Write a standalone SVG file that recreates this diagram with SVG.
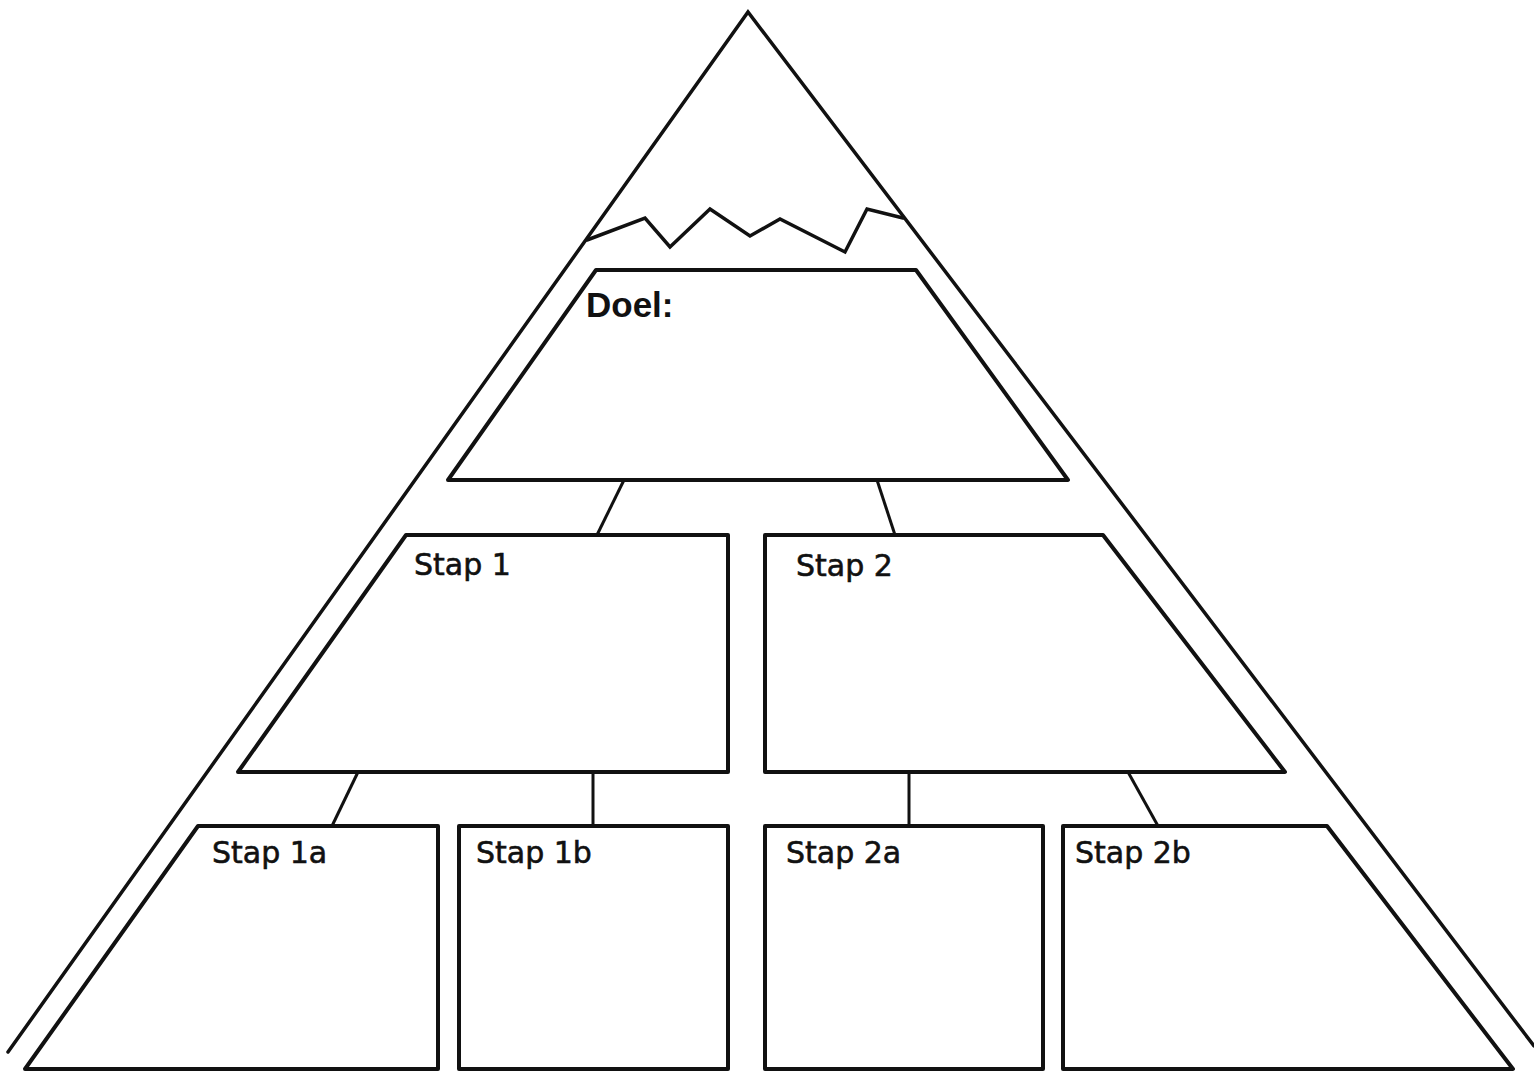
<svg xmlns="http://www.w3.org/2000/svg" width="1534" height="1072" viewBox="0 0 1534 1072">
  <style>
    .box { fill: #ffffff; stroke: #111111; stroke-width: 4; stroke-linejoin: round; }
    .line { fill: none; stroke: #111111; stroke-width: 3.5; stroke-linejoin: miter; stroke-linecap: round; }
    .conn { fill: none; stroke: #111111; stroke-width: 3; stroke-linecap: butt; }
    .lbl { font-family: "DejaVu Sans", "Noto Sans", sans-serif; font-size: 30px; fill: #111111; stroke: #111111; stroke-width: 0.6; }
    .goal { font-family: "Liberation Sans", Arial, sans-serif; font-weight: bold; font-size: 35px; fill: #111111; }
  </style>
  <rect x="0" y="0" width="1534" height="1072" fill="#ffffff"/>

  <g id="mountain">
    <polyline class="line" points="8,1052 748,12 1534,1046"/>
    <polyline class="line" points="587,240 645,218 670,247 710,209 750,236 780,219 845,252 867,209 903,218"/>
  </g>

  <g id="connectors">
    <line class="conn" x1="624" y1="480" x2="597" y2="535"/>
    <line class="conn" x1="877" y1="480" x2="895" y2="535"/>
    <line class="conn" x1="358" y1="772" x2="332" y2="826"/>
    <line class="conn" x1="593" y1="772" x2="593" y2="826"/>
    <line class="conn" x1="909" y1="772" x2="909" y2="826"/>
    <line class="conn" x1="1128" y1="772" x2="1158" y2="826"/>
  </g>

  <g id="doel">
    <polygon class="box" points="596,270 916,270 1068,480 448,480"/>
    <text class="goal" x="586" y="317">Doel:</text>
  </g>

  <g id="stap1">
    <polygon class="box" points="406,535 728,535 728,772 238,772"/>
    <text class="lbl" x="414" y="575">Stap 1</text>
  </g>

  <g id="stap2">
    <polygon class="box" points="765,535 1103,535 1285,772 765,772"/>
    <text class="lbl" x="796" y="576">Stap 2</text>
  </g>

  <g id="stap1a">
    <polygon class="box" points="198,826 438,826 438,1069 25,1069"/>
    <text class="lbl" x="212" y="863">Stap 1a</text>
  </g>

  <g id="stap1b">
    <polygon class="box" points="459,826 728,826 728,1069 459,1069"/>
    <text class="lbl" x="476" y="863">Stap 1b</text>
  </g>

  <g id="stap2a">
    <polygon class="box" points="765,826 1043,826 1043,1069 765,1069"/>
    <text class="lbl" x="786" y="863">Stap 2a</text>
  </g>

  <g id="stap2b">
    <polygon class="box" points="1063,826 1327,826 1513,1069 1063,1069"/>
    <text class="lbl" x="1075" y="863">Stap 2b</text>
  </g>
</svg>
